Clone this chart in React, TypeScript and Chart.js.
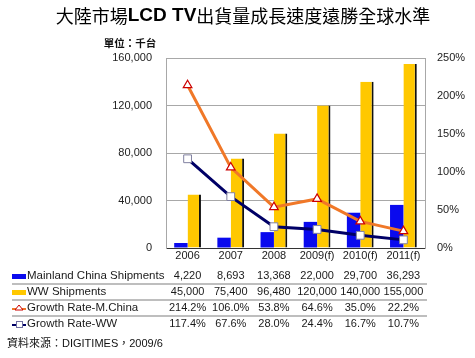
import React, { useEffect, useRef } from "react";
import { Chart, registerables } from "chart.js";

Chart.register(...registerables);

const categories = ["2006", "2007", "2008", "2009(f)", "2010(f)", "2011(f)"];
const chinaShipments = [4220, 8693, 13368, 22000, 29700, 36293];
const wwShipments = [45000, 75400, 96480, 120000, 140000, 155000];
const growthChina = [214.2, 106.0, 53.8, 64.6, 35.0, 22.2];
const growthWW = [117.4, 67.6, 28.0, 24.4, 16.7, 10.7];
const rowLabels = ["Mainland China Shipments", "WW Shipments", "Growth Rate-M.China", "Growth Rate-WW"];

const LATIN = '"Liberation Sans", Arial, "Noto Sans CJK TC", sans-serif';
const CJK = '"Noto Sans CJK TC", "Liberation Sans", sans-serif';

const BLUE = "#0A0AEE";
const GOLD = "#FFC800";
const ORANGE = "#F07828";
const NAVY = "#000066";

const fmtNum = (v: number) => v.toLocaleString("en-US");
const fmtPct = (v: number) => v.toFixed(1) + "%";

const textPlugin = {
  id: "textPlugin",
  afterDraw(chart: any) {
    const ctx = chart.ctx as CanvasRenderingContext2D;
    const x = chart.scales.x;
    ctx.save();
    // Title
    const segs = [
      { t: "大陸市場", f: `18px ${CJK}` },
      { t: "LCD TV", f: `bold 19px ${LATIN}` },
      { t: "出貨量成長速度遠勝全球水準", f: `18px ${CJK}` },
    ];
    let total = 0;
    segs.forEach((s) => {
      ctx.font = s.f;
      total += ctx.measureText(s.t).width;
    });
    let tx = 243 - total / 2;
    ctx.fillStyle = "#000";
    ctx.textBaseline = "middle";
    ctx.textAlign = "left";
    segs.forEach((s) => {
      ctx.font = s.f;
      ctx.fillText(s.t, tx, 16);
      tx += ctx.measureText(s.t).width;
    });
    // Unit
    ctx.font = `bold 10.5px ${CJK}`;
    ctx.fillStyle = "#111";
    ctx.textAlign = "center";
    ctx.fillText("單位：千台", 130, 43);

    // Table
    const rows = [
      chinaShipments.map(fmtNum),
      wwShipments.map(fmtNum),
      growthChina.map(fmtPct),
      growthWW.map(fmtPct),
    ];
    const rowY = [276, 292, 308, 324];
    ctx.fillStyle = "#1a1a1a";
    rows.forEach((row, r) => {
      ctx.font = `11.5px ${LATIN}`;
      ctx.textAlign = "left";
      ctx.fillText(rowLabels[r], 27, rowY[r]);
      ctx.font = `11px ${LATIN}`;
      ctx.textAlign = "center";
      row.forEach((val, i) => {
        ctx.fillText(val, x.getPixelForValue(i), rowY[r]);
      });
    });
    // separators
    ctx.strokeStyle = "#A8A8A8";
    ctx.lineWidth = 1.5;
    [284, 300, 316].forEach((y) => {
      ctx.beginPath();
      ctx.moveTo(12, y);
      ctx.lineTo(427, y);
      ctx.stroke();
    });
    // legend icons
    ctx.fillStyle = BLUE;
    ctx.fillRect(12, 274, 14, 5);
    ctx.fillStyle = GOLD;
    ctx.fillRect(12, 290, 14, 5);
    ctx.strokeStyle = ORANGE;
    ctx.lineWidth = 2;
    ctx.beginPath();
    ctx.moveTo(12, 309);
    ctx.lineTo(26, 309);
    ctx.stroke();
    ctx.fillStyle = "#fff";
    ctx.strokeStyle = "#CC0000";
    ctx.lineWidth = 1;
    ctx.beginPath();
    ctx.moveTo(19, 305);
    ctx.lineTo(23, 310);
    ctx.lineTo(15, 310);
    ctx.closePath();
    ctx.fill();
    ctx.stroke();
    ctx.strokeStyle = NAVY;
    ctx.lineWidth = 2;
    ctx.beginPath();
    ctx.moveTo(12, 325);
    ctx.lineTo(26, 325);
    ctx.stroke();
    ctx.fillStyle = "#fff";
    ctx.strokeStyle = "#7070A0";
    ctx.lineWidth = 1;
    ctx.fillRect(16.5, 321.5, 6, 6);
    ctx.strokeRect(16.5, 321.5, 6, 6);

    // Source
    ctx.font = `11px ${LATIN}`;
    ctx.fillStyle = "#111";
    ctx.textAlign = "left";
    ctx.fillText("資料來源：DIGITIMES，2009/6", 7, 344);
    ctx.restore();
  },
};

export default function App() {
  const ref = useRef<HTMLCanvasElement | null>(null);
  useEffect(() => {
    if (!ref.current) return;
    const chart = new Chart(ref.current, {
      type: "bar",
      data: {
        labels: categories,
        datasets: [
          {
            type: "line",
            label: "Growth Rate-M.China",
            data: growthChina,
            yAxisID: "y1",
            borderColor: ORANGE,
            borderWidth: 3,
            pointStyle: "triangle",
            pointRadius: 5,
            pointBackgroundColor: "#fff",
            pointBorderColor: "#CC0000",
            pointBorderWidth: 1.2,
            order: 0,
          } as any,
          {
            type: "line",
            label: "Growth Rate-WW",
            data: growthWW,
            yAxisID: "y1",
            borderColor: NAVY,
            borderWidth: 3,
            pointStyle: "rect",
            pointRadius: 5.5,
            pointBackgroundColor: "#fff",
            pointBorderColor: "#8080A0",
            pointBorderWidth: 1,
            order: 0,
          } as any,
          {
            label: "Mainland China Shipments",
            data: chinaShipments,
            yAxisID: "y",
            backgroundColor: BLUE,
            borderWidth: 0,
            categoryPercentage: 0.62,
            barPercentage: 1,
            order: 1,
          },
          {
            label: "WW Shipments",
            data: wwShipments,
            yAxisID: "y",
            backgroundColor: GOLD,
            borderColor: "#111",
            borderWidth: { top: 0, left: 0, bottom: 0, right: 2 },
            borderSkipped: false,
            categoryPercentage: 0.62,
            barPercentage: 1,
            order: 1,
          } as any,
        ],
      },
      options: {
        animation: false,
        responsive: false,
        layout: { padding: { left: 0, right: 0, top: 58, bottom: 0 } },
        plugins: { legend: { display: false }, tooltip: { enabled: false }, title: { display: false } },
        scales: {
          x: {
            grid: { display: false, drawTicks: false },
            border: { display: true, color: "#333", width: 1 },
            ticks: { color: "#1a1a1a", font: { size: 11, family: LATIN }, padding: 1, maxRotation: 0 },
            afterFit: (s: any) => {
              s.height = 110;
            },
          },
          y: {
            position: "left",
            min: 0,
            max: 160000,
            ticks: {
              stepSize: 40000,
              color: "#222",
              font: { size: 11, family: LATIN },
              padding: 14,
              callback: (v: any) => fmtNum(Number(v)),
            },
            grid: { color: "#A8A8A8", lineWidth: 1, drawTicks: false },
            border: { display: true, color: "#A8A8A8", width: 1 },
            afterFit: (s: any) => {
              s.width = 166;
            },
          },
          y1: {
            position: "right",
            min: 0,
            max: 250,
            ticks: {
              stepSize: 50,
              color: "#222",
              font: { size: 11, family: LATIN },
              padding: 12,
              callback: (v: any) => v + "%",
            },
            grid: { display: false, drawTicks: false },
            border: { display: true, color: "#A8A8A8", width: 1 },
            afterFit: (s: any) => {
              s.width = 50;
            },
          },
        },
      },
      plugins: [textPlugin],
    });
    return () => chart.destroy();
  }, []);
  return (
    <div style={{ position: "absolute", left: 0, top: 0, width: 475, height: 358, background: "#fff" }}>
      <canvas ref={ref} width={475} height={358} style={{ display: "block" }} />
    </div>
  );
}
